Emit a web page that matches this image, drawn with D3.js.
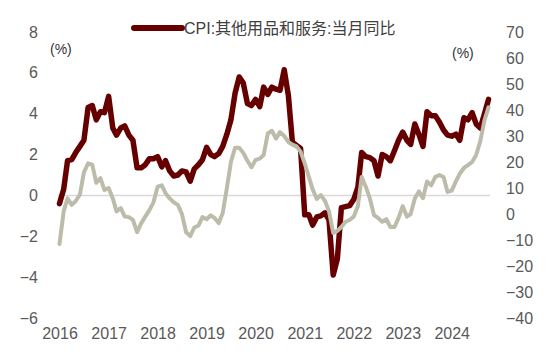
<!DOCTYPE html>
<html>
<head>
<meta charset="utf-8">
<script src="https://cdn.jsdelivr.net/npm/d3@7"></script>
<style>
  body { margin: 0; background: #fff; }
  svg { display: block; font-family: "Liberation Sans", Arial, "Noto Sans CJK SC", sans-serif; }
</style>
</head>
<body>
<svg id="chart" width="550" height="362"></svg>
<script>
//monthly readings, Jan 2016 onwards
const startMonth = new Date(2016, 0, 1);
const cpiOther = [-0.4, 0.3, 1.7, 1.75, 2.1, 2.4, 2.7, 4.3, 4.4, 3.7, 4.1, 4.05,
    4.85, 3.3, 2.95, 3.3, 3.4, 2.95, 2.7, 1.35, 1.35, 1.5, 1.8, 1.8,
    1.9, 1.4, 1.7, 1.2, 0.95, 1.0, 1.2, 1.15, 0.7, 1.3, 1.5,
    1.75, 2.35, 2.0, 1.9, 2.05, 2.4, 3.0, 3.7, 5.0, 5.8, 5.5, 4.5,
    4.4, 4.7, 4.35, 5.3, 4.95, 5.3, 5.2, 5.15, 6.15, 4.9, 2.6, 2.45,
    2.3, -0.95, -0.95, -1.45, -1.05, -1.0, -0.85, -1.2, -3.9, -3.1, -0.6, -0.55,
    -0.5, -0.2, 0.4, 2.1, 1.9, 1.85, 1.7, 0.95, 2.0, 1.9, 1.7, 2.2,
    2.7, 3.1, 2.7, 2.5, 3.5, 3.0, 2.4, 4.1, 3.9, 3.9, 3.6,
    3.2, 2.95, 2.9, 3.0, 2.7, 3.8, 3.7, 4.05, 3.5, 3.3, 4.0, 4.7];
const graySeries = [-11.5, 1, 6, 3.5, 5, 7.5, 16, 19.5, 19, 12, 13.8, 9.2,
    10, 6, 1, 2.3, -1, -1.2, -2.3, -7, -3.5, -1, 1.5, 4.5,
    10.5, 11, 8, 6, 4.5, 3.5, 0, -7, -8.5, -5.2, -4.5,
    -1.2, -2, -0.5, -1.5, -3.5, 0.4, 10, 20, 25.5, 25.5, 23.5, 20.5,
    18, 20.8, 21.3, 22.7, 31, 32, 29, 31.5, 30, 27.7, 26.7, 26,
    24, 19.5, 14.2, 9.5, 5.8, 7.3, 5, 1, -7.3, -6.5, -5, -3,
    -2.3, -1, 3, 14.2, 10.5, 6, -0.4, -1.5, -3, -2, -5, -5,
    -1.5, 3, -1, 0, 6, 8.7, 6.1, 12.5, 11, 14.3, 15,
    14.2, 8.5, 9, 12.5, 15.5, 17.7, 18.8, 20, 22.7, 28, 36, 41];
const leftTicks = [-6, -4, -2, 0, 2, 4, 6, 8];
const rightTicks = [-40, -30, -20, -10, 0, 10, 20, 30, 40, 50, 60, 70];
const yearTicks = [2016, 2017, 2018, 2019, 2020, 2021, 2022, 2023, 2024];
const legendLabel = "CPI:其他用品和服务:当月同比";

const monthDate = i => new Date(2016, i, 1);
const darkData = cpiOther.map((v, i) => ({date: monthDate(i), value: v}));
const grayData = graySeries.map((v, i) => ({date: monthDate(i), value: v}));

const svg = d3.select('#chart');
const darkRed = "#660000";
const khaki = "#bdbcaa";
const labelColor = "#595959";

//scales
const x = d3.scaleTime()
    .domain([startMonth, monthDate(cpiOther.length - 1)])
    .range([59.5, 488.5]);
const yLeft = d3.scaleLinear().domain([-6, 8]).range([318, 32]);
const yRight = d3.scaleLinear().domain([-40, 70]).range([318, 32]);

//axes, no lines just labels
const leftAxis = svg.append("g")
    .attr("transform", "translate(38,0)")
    .call(d3.axisLeft(yLeft).tickValues(leftTicks).tickSize(0).tickPadding(0).tickFormat(d3.format("d")));
const rightAxis = svg.append("g")
    .attr("transform", "translate(506,0)")
    .call(d3.axisRight(yRight).tickValues(rightTicks).tickSize(0).tickPadding(0).tickFormat(d3.format("d")));
const bottomAxis = svg.append("g")
    .attr("transform", "translate(0,328)")
    .call(d3.axisBottom(x).tickValues(yearTicks.map(y => new Date(y, 0, 1))).tickSize(0).tickPadding(0).tickFormat(d3.timeFormat("%Y")));

[leftAxis, rightAxis, bottomAxis].forEach(g => {
    g.select(".domain").remove();
    g.selectAll("text")
        .attr("fill", labelColor)
        .style("font-size", "16px");
});
bottomAxis.selectAll("text").attr("dy", "0.71em");

//zero line
svg.append("line")
    .attr("x1", 58)
    .attr("x2", 490)
    .attr("y1", yLeft(0))
    .attr("y2", yLeft(0))
    .attr("stroke", "#d9d9d9")
    .attr("stroke-width", 1.5);

//series lines
const darkLine = d3.line().x(d => x(d.date)).y(d => yLeft(d.value));
const grayLine = d3.line().x(d => x(d.date)).y(d => yRight(d.value));

svg.append("path")
    .datum(darkData)
    .attr("fill", "none")
    .attr("stroke", darkRed)
    .attr("stroke-width", 5.5)
    .attr("stroke-linejoin", "round")
    .attr("stroke-linecap", "round")
    .attr("d", darkLine);

svg.append("path")
    .datum(grayData)
    .attr("fill", "none")
    .attr("stroke", khaki)
    .attr("stroke-width", 4)
    .attr("stroke-linejoin", "round")
    .attr("stroke-linecap", "round")
    .attr("d", grayLine);

//unit labels
svg.append("text")
    .attr("x", 50).attr("y", 54)
    .attr("fill", "#333")
    .style("font-size", "14px")
    .text("(%)");
svg.append("text")
    .attr("x", 452).attr("y", 58)
    .attr("fill", "#333")
    .style("font-size", "14px")
    .text("(%)");

//legend
svg.append("line")
    .attr("x1", 134).attr("x2", 182)
    .attr("y1", 28).attr("y2", 28)
    .attr("stroke", darkRed)
    .attr("stroke-width", 6)
    .attr("stroke-linecap", "round");
svg.append("text")
    .attr("x", 184).attr("y", 34)
    .attr("fill", "#404040")
    .style("font-size", "16px")
    .text(legendLabel);
</script>
</body>
</html>
